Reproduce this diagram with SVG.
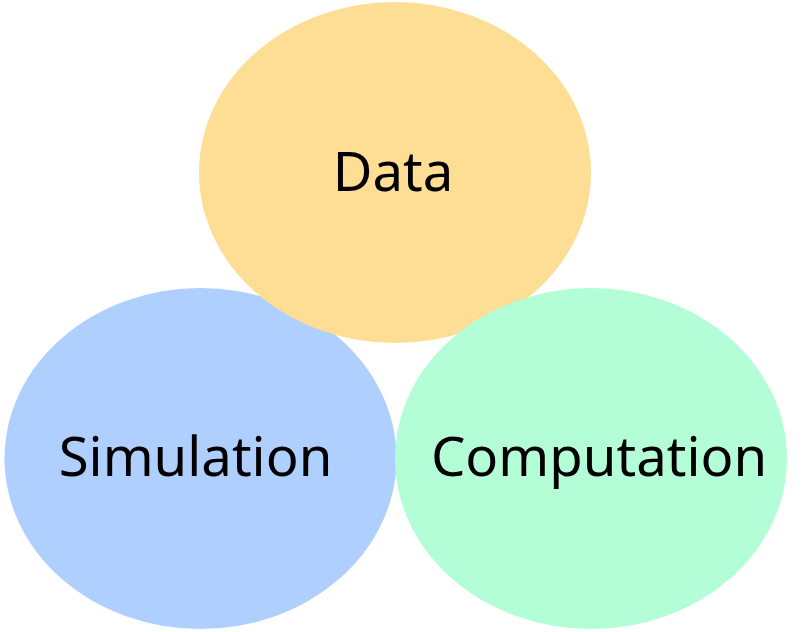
<svg xmlns="http://www.w3.org/2000/svg" width="806" height="632" viewBox="0 0 806 632">
<style>
text{font-family:"Noto Sans","Open Sans",sans-serif;font-size:54.5px;fill:#000;text-anchor:middle}
</style>
<rect width="806" height="632" fill="#fff"/>
<g id="simulation"><ellipse cx="200.5" cy="458.5" rx="196" ry="170.5" fill="#afcffe"/><text x="195.5" y="476">Simulation</text></g>
<g id="data"><ellipse cx="395" cy="172.5" rx="196" ry="170.5" fill="#fedd94"/><text x="393" y="191">Data</text></g>
<g id="computation"><ellipse cx="591" cy="458.5" rx="196" ry="170.5" fill="#b3fed6"/><text x="599" y="476">Computation</text></g>
<g id="connectors"/>
</svg>
